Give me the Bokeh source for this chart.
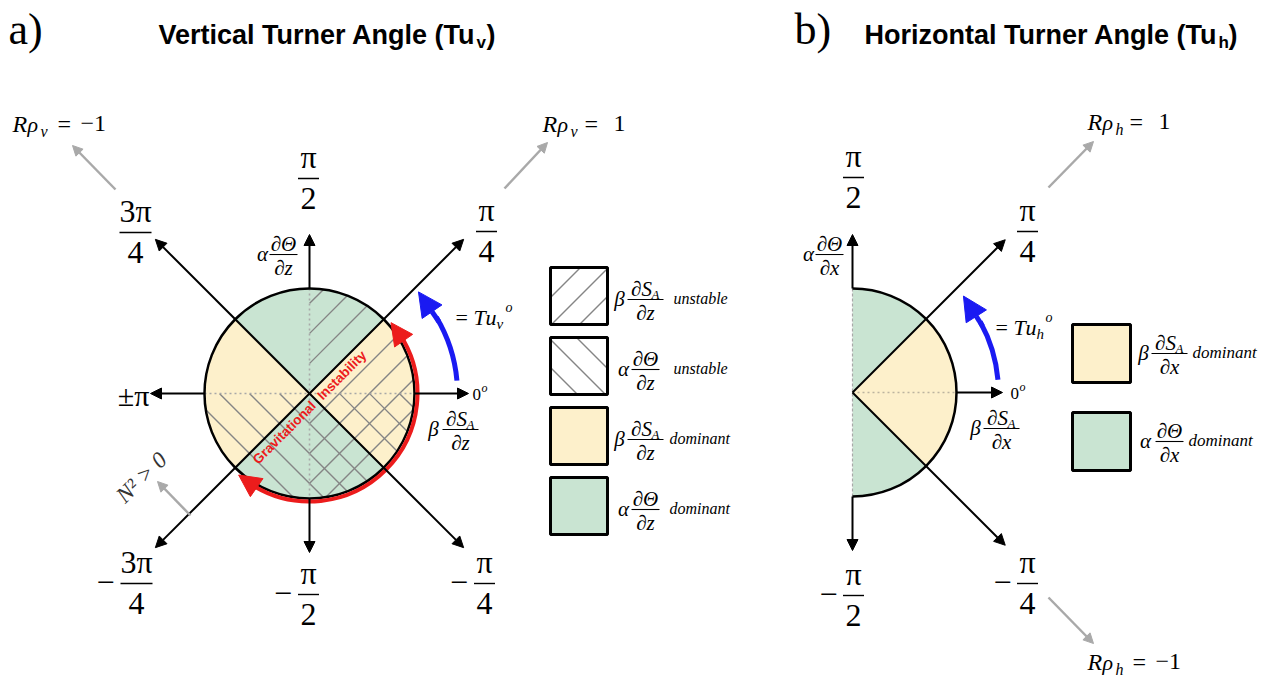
import numpy as np
from bokeh.plotting import figure
from bokeh.models import Arrow, NormalHead, Range1d
from bokeh.core.properties import value
from bokeh.embed import file_html
from bokeh.resources import INLINE

# ---------------- diagram content ----------------
# Turner-angle sectors (degrees) and which gradient term dominates in each
sector_a_start = [-45, 45, 135, 225]
sector_a_end = [45, 135, 225, 315]
sector_a_term = ["salt", "heat", "salt", "heat"]
sector_b_start = [-90, -45, 45]
sector_b_end = [-45, 45, 90]
sector_b_term = ["heat", "salt", "heat"]

# half-planes where each vertical gradient is destabilising (degrees)
salt_unstable = (-90, 90)
heat_unstable = (-180, 0)
# range of gravitational instability (degrees)
grav_unstable = (-135, 45)

# axis directions (degrees)
axes_a_edge = [0, 90, 180, -90]
axes_a_diag = [45, 135, -135, -45]
axes_b_edge = [0, 90, -90]
axes_b_diag = [45, -45]

# angle labels: sign, numerator, denominator
label_a_dir = [45, 90, 135, -135, -90, -45]
label_a_sign = ["", "", "", "−", "−", "−"]
label_a_num = ["π", "π", "3π", "3π", "π", "π"]
label_a_den = ["4", "2", "4", "4", "2", "4"]
label_b_dir = [45, 90, -90, -45]
label_b_sign = ["", "", "−", "−"]
label_b_num = ["π", "π", "π", "π"]
label_b_den = ["4", "2", "2", "4"]

legend_a_coef = ["β", "α", "β", "α"]
legend_a_num = ["∂S", "∂Θ", "∂S", "∂Θ"]
legend_a_sub = ["A", "", "A", ""]
legend_a_word = ["unstable", "unstable", "dominant", "dominant"]
legend_a_fill = ["/", "\\", "salt", "heat"]
legend_b_coef = ["β", "α"]
legend_b_num = ["∂S", "∂Θ"]
legend_b_sub = ["A", ""]
legend_b_word = ["dominant", "dominant"]
legend_b_fill = ["salt", "heat"]

# ---------------- style ----------------
W, H = 1272, 681
SERIF = "Liberation Serif"
SANS = "Liberation Sans"
FILL = {"salt": "#fdf0cb", "heat": "#c9e4d2"}
HATCH = "#858585"
GREY = "#a9a9a9"
BLUE = "#1a1af2"
RED = "#ec1c1c"

CA, RA = (309.0, 393.0), 105.0   # panel a centre / radius (page pixels, y down)
CB, RB = (852.0, 392.0), 104.0   # panel b

p = figure(width=W, height=H, x_range=Range1d(0, W), y_range=Range1d(0, H),
           x_axis_type=None, y_axis_type=None, toolbar_location=None,
           output_backend="svg", min_border=0, outline_line_color=None,
           background_fill_color="white", border_fill_color="white")


def polar(c, r, deg):
    t = np.radians(deg)
    return c[0] + r * np.cos(t), c[1] - r * np.sin(t)


def txt(x, y, s, size, style="normal", align="center", base="alphabetic",
        color="black", font=SERIF, angle=0):
    # y is the baseline in page pixels; the svg text sits a little low, lift it
    if base == "alphabetic":
        y = y - 0.28 * size
    p.text(x=[x], y=[H - y], text=[s], text_font=value(font),
           text_font_size=f"{size}px", text_font_style=style,
           text_align=align, text_baseline=base, text_color=color,
           angle=angle, angle_units="deg")


def seg(x0, y0, x1, y1, color="black", width=1.3, dash="solid"):
    p.segment(x0=[x0], y0=[H - y0], x1=[x1], y1=[H - y1],
              line_color=color, line_width=width, line_dash=dash)


def arrow(x0, y0, x1, y1, color="black", width=2.0, size=11):
    head = NormalHead(size=size, fill_color=color, line_color=color, line_width=1)
    p.add_layout(Arrow(end=head, x_start=x0, y_start=H - y0, x_end=x1,
                       y_end=H - y1, line_color=color, line_width=width))


def pieces(x0, base, items, color="black"):
    for dx, dy, s, size, style, font in items:
        txt(x0 + dx, base + dy, s, size, style, align="left", color=color, font=font)


def frac(cx, ly, num, den, size, width, sign="", sign_dx=0):
    txt(cx, ly - 0.38 * size, num, size)
    txt(cx, ly + 0.9 * size, den, size)
    seg(cx - width / 2, ly, cx + width / 2, ly, width=1.4)
    if sign:
        txt(cx - sign_dx, ly + 0.25 * size, sign, size)


def deriv(coef_x, cx, ly, coef, num, sub, den, size=21, width=30):
    txt(coef_x, ly + 0.24 * size, coef, size, "italic")
    shift = 4 if sub else 0
    txt(cx - shift, ly - 0.2 * size, num, size, "italic")
    if sub:
        txt(cx + 6, ly - 0.2 * size + 3, sub, int(size * 0.66), "italic", align="left")
    txt(cx, ly + 0.9 * size, den, size, "italic")
    seg(cx - width / 2, ly, cx + width / 2, ly, width=1.1)


def wedges(c, r, starts, ends, terms):
    p.wedge(x=[c[0]] * len(starts), y=[H - c[1]] * len(starts), radius=r,
            start_angle=starts, end_angle=ends, start_angle_units="deg",
            end_angle_units="deg", fill_color=[FILL[t] for t in terms],
            line_color=None)


def hatch_disk(c, r, slope, half, spacing=30):
    """Hatch lines of the given slope inside the disk, limited to an angular half."""
    x0s, y0s, x1s, y1s = [], [], [], []
    lo, hi = np.radians(half[0]), np.radians(half[1])
    nx, ny = np.cos((lo + hi) / 2), np.sin((lo + hi) / 2)   # inward normal of the half
    for k in range(-6, 7):
        cc = k * spacing
        disc = 2 * r * r - cc * cc
        if disc <= 0:
            continue
        if slope > 0:      # v = u + c
            us = np.linspace((-cc - np.sqrt(disc)) / 2, (-cc + np.sqrt(disc)) / 2, 400)
            vs = us + cc
        else:              # v = -u + c
            us = np.linspace((cc - np.sqrt(disc)) / 2, (cc + np.sqrt(disc)) / 2, 400)
            vs = -us + cc
        keep = us * nx + vs * ny >= 0
        if keep.sum() < 2:
            continue
        u, v = us[keep], vs[keep]
        x0s.append(c[0] + u[0]); y0s.append(H - c[1] + v[0])
        x1s.append(c[0] + u[-1]); y1s.append(H - c[1] + v[-1])
    p.segment(x0=x0s, y0=y0s, x1=x1s, y1=y1s, line_color=HATCH, line_width=1.4)


def hatch_box(x0, y0, s, kind, offsets):
    xs0, ys0, xs1, ys1 = [], [], [], []
    for k in offsets:
        if kind == "/":   # a + b = k  (b measured downwards)
            a0, a1 = max(0, k - s), min(s, k)
            pts = [(a0, k - a0), (a1, k - a1)]
        else:             # a - b = k
            a0, a1 = max(0, k), min(s, s + k)
            pts = [(a0, a0 - k), (a1, a1 - k)]
        xs0.append(x0 + pts[0][0]); ys0.append(H - (y0 + pts[0][1]))
        xs1.append(x0 + pts[1][0]); ys1.append(H - (y0 + pts[1][1]))
    p.segment(x0=xs0, y0=ys0, x1=xs1, y1=ys1, line_color=HATCH, line_width=1.4)


def box(x0, y0, s, fill):
    color = FILL.get(fill, "white")
    p.quad(left=[x0], right=[x0 + s], top=[H - y0], bottom=[H - y0 - s],
           fill_color=color, line_color=None)
    if fill in ("/", "\\"):
        offs = [30, 58, 86] if fill == "/" else [-30, -2, 26]
        hatch_box(x0, y0, s, fill, offs)
    p.quad(left=[x0], right=[x0 + s], top=[H - y0], bottom=[H - y0 - s],
           fill_color=None, line_color="black", line_width=3)


def rho_label(x0, base, sub, rhs, eq_dx, rhs_dx):
    pieces(x0, base, [(0, 0, "R", 24, "italic", SERIF),
                      (15, 0, "ρ", 22, "italic", SERIF),
                      (28, 5, sub, 16, "italic", SERIF),
                      (eq_dx, 0, "=", 24, "normal", SERIF),
                      (rhs_dx, 0, rhs, 24, "normal", SERIF)])


def tu_label(x0, base, sub):
    pieces(x0, base, [(0, 0, "=", 22, "normal", SERIF),
                      (18, 0, "T", 22, "italic", SERIF),
                      (30, 0, "u", 22, "italic", SERIF),
                      (41, 5, sub, 15, "italic", SERIF),
                      (50, -12, "o", 14, "italic", SERIF)])


# ================= panel a =================
wedges(CA, RA, sector_a_start, sector_a_end, sector_a_term)
hatch_disk(CA, RA, +1, salt_unstable)
hatch_disk(CA, RA, -1, heat_unstable)
seg(CA[0], CA[1] - RA, CA[0], CA[1] + RA, color="#a8a8a8", width=1.6, dash="2 3")
seg(CA[0] - RA, CA[1], CA[0] + RA, CA[1], color="#a8a8a8", width=1.6, dash="2 3")
p.circle(x=[CA[0]], y=[H - CA[1]], radius=RA, fill_color=None,
         line_color="black", line_width=2.5)

for d in axes_a_edge:
    x0, y0 = polar(CA, RA, d)
    x1, y1 = polar(CA, RA + 54, d)
    arrow(x0, y0, x1, y1)
for d in axes_a_diag:
    x1, y1 = polar(CA, 218, d)
    arrow(CA[0], CA[1], x1, y1)

# gravitational instability arc
g0, g1 = grav_unstable
p.arc(x=[CA[0]], y=[H - CA[1]], radius=108, start_angle=g0 + 12, end_angle=g1 - 12,
      start_angle_units="deg", end_angle_units="deg", direction="anticlock",
      line_color=RED, line_width=4)
xs, ys = polar(CA, 108, g1 - 16); xe, ye = polar(CA, 108, g1 - 4)
arrow(xs, ys, xe, ye, color=RED, width=4, size=22)
xs, ys = polar(CA, 108, g0 + 16); xe, ye = polar(CA, 108, g0 + 4)
arrow(xs, ys, xe, ye, color=RED, width=4, size=22)
ax, ay = CA[0] + 7, CA[1] + 7
txt(ax - 3, ay + 3, "Gravitational", 13.5, "bold", align="right", base="middle",
    color=RED, font="Liberation Sans", angle=45)
txt(ax + 3, ay - 3, "Instability", 13.5, "bold", align="left", base="middle",
    color=RED, font="Liberation Sans", angle=45)

# Tu arrow
p.arc(x=[CA[0]], y=[H - CA[1]], radius=148, start_angle=5, end_angle=31,
      start_angle_units="deg", end_angle_units="deg", direction="anticlock",
      line_color=BLUE, line_width=5)
xs, ys = polar(CA, 148, 29); xe, ye = polar(CA, 149, 43)
arrow(xs, ys, xe, ye, color=BLUE, width=5, size=24)
tu_label(455, 323, "v")

# density-ratio and stratification arrows
arrow(115, 189, 72, 145, color=GREY, width=2.5, size=10)
arrow(504, 188, 547, 142, color=GREY, width=2.5, size=10)
arrow(190, 515, 157, 481, color=GREY, width=2.5, size=10)
rho_label(12, 130, "v", "−1", 45, 68)
rho_label(542, 130, "v", "1", 42, 71)
txt(141, 477, "N² > 0", 23, "italic", base="middle", color="#333333", angle=45)

# angle labels
pos_a = {45: (486, 231), 90: (308, 178), 135: (135, 232),
         -135: (136, 583), -90: (308, 594), -45: (484, 583)}
for d, s, n, dn in zip(label_a_dir, label_a_sign, label_a_num, label_a_den):
    cx, ly = pos_a[d]
    w = 32 if len(n) > 1 else 21
    frac(cx, ly, n, dn, 32, w, sign=s, sign_dx=(w / 2 + 15))
txt(133, 403, "±π", 30)
txt(472, 399, "0", 17, align="left")
txt(481, 391, "o", 12, "italic", align="left")

deriv(262, 283, 254, "α", "∂Θ", "", "∂z", width=28)
deriv(433, 460, 429, "β", "∂S", "A", "∂z", width=36)

# legend a
for i, (cf, nm, sb, wd, fl) in enumerate(zip(legend_a_coef, legend_a_num, legend_a_sub,
                                             legend_a_word, legend_a_fill)):
    top = 267 + i * 70
    box(550, top, 57, fl)
    ly = top + 32
    deriv(619 if cf == "β" else 623, 645, ly, cf, nm, sb, "∂z",
          width=36 if sb else 28)
    txt(673 if wd == "unstable" else 669, ly + 3, wd, 16, "italic", align="left")

# ================= panel b =================
wedges(CB, RB, sector_b_start, sector_b_end, sector_b_term)
seg(CB[0], CB[1] - RB, CB[0], CB[1] + RB, color="#a8a8a8", width=1.2, dash="3 2")
seg(CB[0], CB[1], CB[0] + RB, CB[1], color="#bcb3a0", width=1.6, dash="2 3")
p.arc(x=[CB[0]], y=[H - CB[1]], radius=RB, start_angle=-90, end_angle=90,
      start_angle_units="deg", end_angle_units="deg", direction="anticlock",
      line_color="black", line_width=2.5)
for d in axes_b_edge:
    x0, y0 = polar(CB, RB, d)
    x1, y1 = polar(CB, RB + 54, d) if d != 0 else polar(CB, RB + 46, d)
    arrow(x0, y0, x1, y1)
for d in axes_b_diag:
    x1, y1 = polar(CB, 216, d)
    arrow(CB[0], CB[1], x1, y1)

p.arc(x=[CB[0]], y=[H - CB[1]], radius=146, start_angle=5, end_angle=29,
      start_angle_units="deg", end_angle_units="deg", direction="anticlock",
      line_color=BLUE, line_width=5)
xs, ys = polar(CB, 146, 27); xe, ye = polar(CB, 147, 41)
arrow(xs, ys, xe, ye, color=BLUE, width=5, size=24)
tu_label(995, 333, "h")

arrow(1048, 187, 1093, 141, color=GREY, width=2.5, size=10)
arrow(1048, 597, 1093, 643, color=GREY, width=2.5, size=10)
rho_label(1087, 128, "h", "1", 42, 71)
rho_label(1087, 668, "h", "−1", 45, 68)

pos_b = {45: (1027, 231), 90: (853, 177), -90: (853, 595), -45: (1027, 583)}
for d, s, n, dn in zip(label_b_dir, label_b_sign, label_b_num, label_b_den):
    cx, ly = pos_b[d]
    frac(cx, ly, n, dn, 32, 21, sign=s, sign_dx=25)
txt(1010, 398, "0", 17, align="left")
txt(1019, 390, "o", 12, "italic", align="left")

deriv(808, 829, 254, "α", "∂Θ", "", "∂x", width=28)
deriv(975, 1001, 428, "β", "∂S", "A", "∂x", width=36)

for i, (cf, nm, sb, wd, fl) in enumerate(zip(legend_b_coef, legend_b_num, legend_b_sub,
                                             legend_b_word, legend_b_fill)):
    top = 324 + i * 88
    box(1072, top, 58, fl)
    ly = top + 29
    deriv(1143 if cf == "β" else 1145, 1169, ly, cf, nm, sb, "∂x",
          width=36 if sb else 28)
    txt(1192 if sb else 1188, ly + 4, wd, 17, "italic", align="left")

# ================= titles =================
txt(8, 41, "a)", 44, align="left")
txt(794, 41, "b)", 44, align="left")


def title(x_end, main, sub):
    txt(x_end, 42, main, 27, "bold", align="right", font=SANS)
    txt(x_end + 1, 47, sub, 17, "bold", align="left", font=SANS)
    txt(x_end + 11, 42, ")", 27, "bold", align="left", font=SANS)


title(475, "Vertical Turner Angle (Tu", "v")
title(1217, "Horizontal Turner Angle (Tu", "h")

open("out.html", "w").write(file_html(p, INLINE))
